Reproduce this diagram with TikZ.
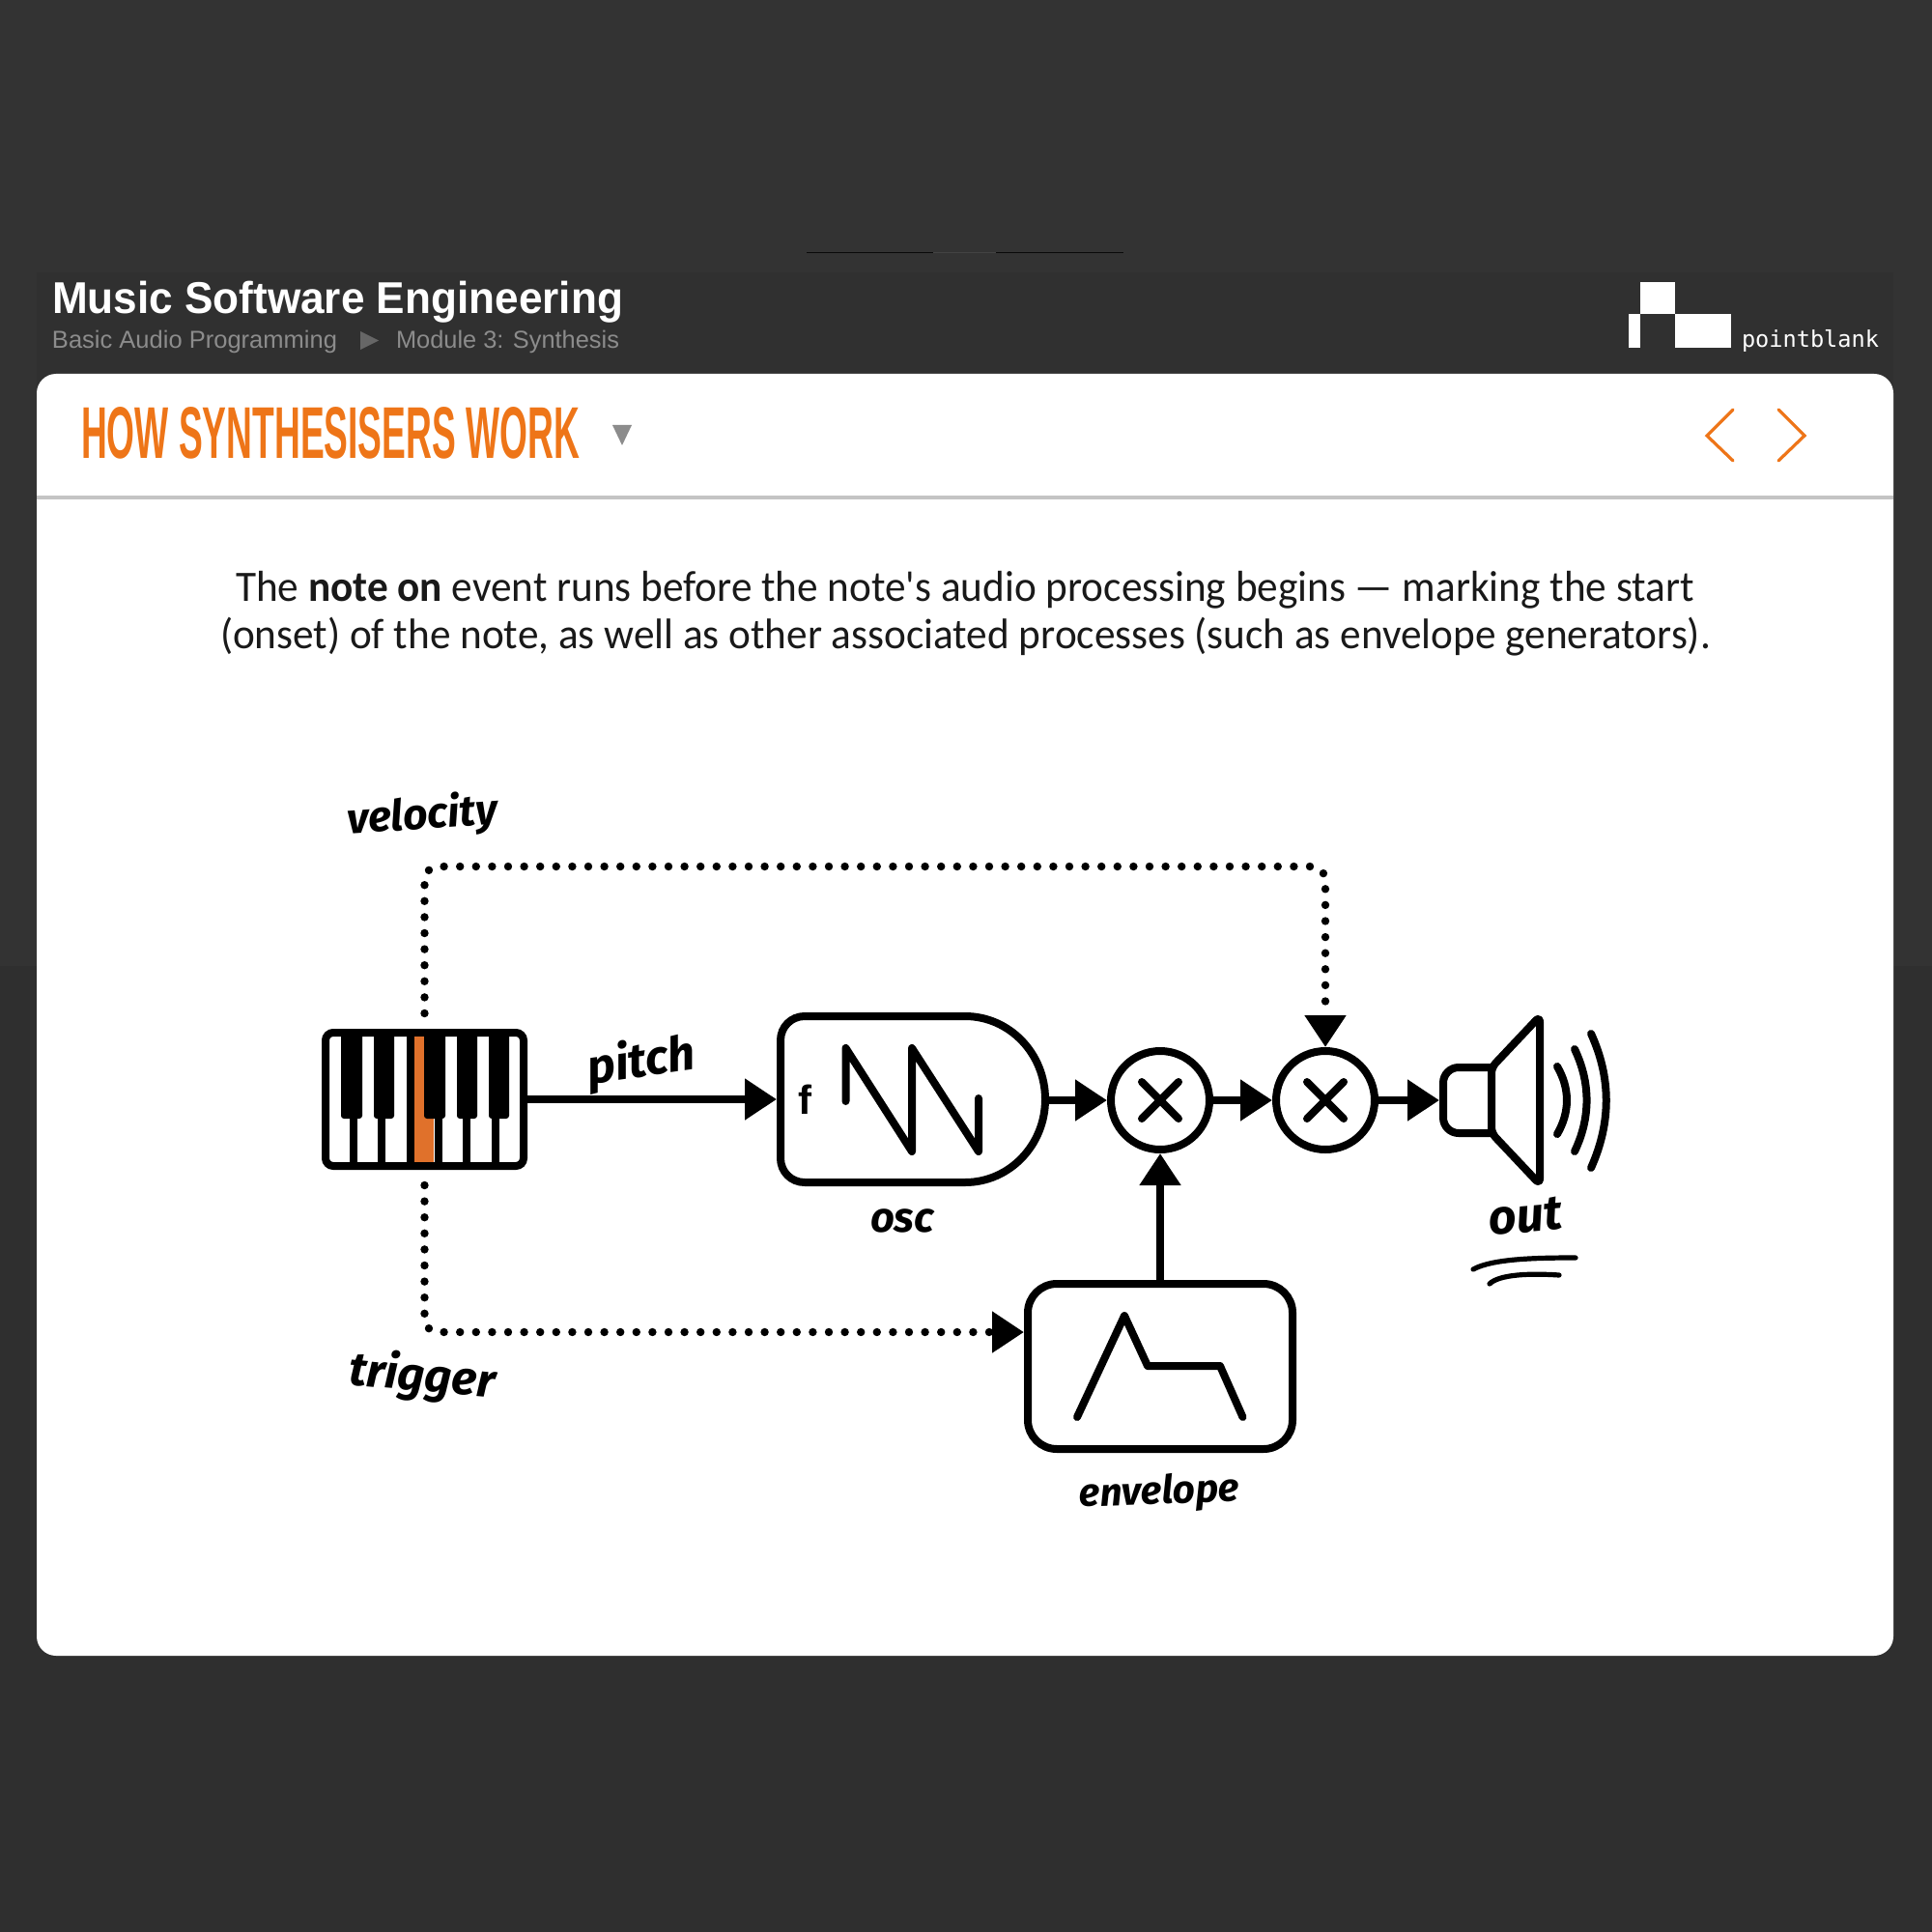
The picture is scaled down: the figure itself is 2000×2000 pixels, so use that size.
\documentclass[tikz,border=0pt]{standalone}
\usepackage{fontspec}
\usepackage{graphicx}
\usetikzlibrary{arrows.meta,calc}
\setmainfont{Liberation Sans}
\newfontfamily\bodyfont{Carlito}
\newfontfamily\monofont{DejaVu Sans Mono}
\newfontfamily\handfont{Fira Sans}
\definecolor{bgtop}{HTML}{333333}
\definecolor{bgband}{HTML}{303030}
\definecolor{bgbottom}{HTML}{2F2F2F}
\definecolor{orangetitle}{HTML}{EE7518}
\definecolor{orangekey}{HTML}{E0712B}
\definecolor{crumb}{HTML}{8C8C8C}
\definecolor{crumbtri}{HTML}{666666}
\definecolor{rulegray}{HTML}{C4C4C4}
\definecolor{ink}{HTML}{000000}
\tikzset{
  x=0.5pt,y=-0.5pt,
  lbl/.style={inner sep=0pt,outer sep=0pt},
  hand/.style={inner sep=0pt,outer sep=0pt,font=\handfont\bfseries\itshape,text=ink},
  wire/.style={line width=4pt,draw=ink,-{Triangle[length=16.5pt,width=20.5pt]}},
  dotline/.style={line width=4.2pt,draw=ink,line cap=round,dash pattern=on 0pt off 8.3pt,rounded corners=7pt},
  dotarrow/.style={dotline,-{Triangle[length=16.5pt,width=20.5pt]}},
  block/.style={line width=4pt,draw=ink,fill=white,inner sep=0pt,outer sep=2pt},
  mixer/.style={circle,line width=4pt,draw=ink,fill=white,minimum size=51pt,inner sep=0pt,outer sep=2pt},
  glyph/.style={line width=4pt,draw=ink,line cap=round,line join=round},
  navarrow/.style={line width=1.6pt,draw=orangetitle,line cap=round},
}
\newcommand{\fitw}[2]{\resizebox{#1pt}{!}{#2}}
\newcommand{\fitwh}[3]{\resizebox{#1pt}{#2pt}{#3}}
\begin{document}
\begin{tikzpicture}
\useasboundingbox (0,0) rectangle (2000,2000);
\fill[bgtop] (0,0) rectangle (2000,1000);
\fill[bgbottom] (0,1000) rectangle (2000,2000);
\fill[bgband] (38,282) rectangle (1960,420);
\fill[black!80!bgtop] (835,261) rectangle (966,262.5);
\fill[white!8!bgtop] (966,261) rectangle (1031,262.5);
\fill[black!80!bgtop] (1031,261) rectangle (1163,262.5);
% header
\node[lbl,anchor=base west,text=white] (course) at (54,325) {\fitwh{295.5}{16.7}{\bfseries Music Software Engineering}};
\node[lbl,anchor=base west,text=crumb] (crumbA) at (54,361) {\fitwh{147.5}{9.2}{Basic Audio Programming}};
\fill[crumbtri] (373,343) -- (392,352.5) -- (373,362) -- cycle;
\node[lbl,anchor=base west,text=crumb] (crumbB) at (410,361) {\fitwh{115.5}{9.2}{Module 3: Synthesis}};
% logo
\fill[white] (1698,292) rectangle (1733.5,325);
\fill[white] (1686,325) rectangle (1698,360);
\fill[white] (1733.5,325) rectangle (1792,360);
\node[lbl,anchor=base west,text=white] (brand) at (1803,360) {\fitw{71}{\monofont pointblank}};
% panel
\fill[white,rounded corners=10pt] (38,387) rectangle (1960,1714);
\fill[rulegray] (38,512.5) rectangle (1960,516.5);
\node[lbl,anchor=base west,text=orangetitle] (title) at (84,475) {\resizebox{258pt}{26.5pt}{\bfseries HOW SYNTHESISERS WORK}};
\fill[crumb] (634,440) -- (654,440) -- (644,461) -- cycle;
\draw[navarrow] (1794,424) -- (1767,451) -- (1794,477);
\draw[navarrow] (1841,424) -- (1868,451) -- (1841,477);
% body text
\node[lbl,anchor=base west,text=black!90] (lineA) at (244,622) {\fitwh{755}{15.6}{\bodyfont The \textbf{note on} event runs before the note's audio processing begins — marking the start}};
\node[lbl,anchor=base west,text=black!90] (lineB) at (228,671) {\fitwh{771.5}{16.2}{\bodyfont (onset) of the note, as well as other associated processes (such as envelope generators).}};
% keyboard
\node[block,rounded corners=4pt,minimum width=102.5pt,minimum height=69pt] (kbd) at (439.5,1138) {};
\fill[orangekey] (429,1073) rectangle (449,1203);
\foreach \k in {366,395,425,454,483,513} \draw[line width=4pt,draw=ink] (\k,1069) -- (\k,1207);
\foreach \a/\b in {353/375,387/408,439/461,473/494,506/527}
  \fill[ink,rounded corners=1.5pt] (\a,1065) rectangle (\b,1158);
% oscillator block
\node[lbl,minimum width=141pt,minimum height=90pt] (osc) at (945,1139) {};
\draw[line width=4pt,draw=ink,fill=white,line join=round]
  (833,1052) -- (999,1052) .. controls (1044.8,1052) and (1082,1090.5) .. (1082,1138)
  .. controls (1082,1185.5) and (1044.8,1224) .. (999,1224) -- (833,1224)
  .. controls (819,1224) and (808,1213) .. (808,1199) -- (808,1077)
  .. controls (808,1063) and (819,1052) .. (833,1052) -- cycle;
\node[lbl,font=\bfseries] (oscf) at (833,1138) {\fitw{7}{f}};
\draw[glyph] (875.5,1140) -- (875.5,1085) -- (944,1192) -- (944,1085) -- (1013,1192) -- (1013,1137);
% envelope block
\node[block,rounded corners=15pt,minimum width=137pt,minimum height=85.5pt] (env) at (1201,1414.5) {};
\draw[glyph] (1115,1467) -- (1164,1362) -- (1188,1414) -- (1263,1414) -- (1286.5,1467);
% multipliers
\node[mixer] (mixA) at (1201,1139) {};
\node[mixer] (mixB) at (1372,1139) {};
\foreach \m in {mixA,mixB} {
  \draw[glyph] ($(\m)+(-19,-19)$) -- ($(\m)+(19,19)$);
  \draw[glyph] ($(\m)+(-19,19)$) -- ($(\m)+(19,-19)$);
}
% speaker
\coordinate (spk) at (1490,1139);
\draw[line width=4pt,draw=ink,rounded corners=8pt] (1544,1105) -- (1494,1105) -- (1494,1173) -- (1544,1173);
\draw[line width=4pt,draw=ink,line join=round,rounded corners=3pt] (1544,1105) -- (1594,1052) -- (1594,1226) -- (1544,1173) -- cycle;
\draw[glyph] (1612,1104) .. controls (1625.3,1127) and (1625.3,1151) .. (1612,1174);
\draw[glyph] (1630,1086) .. controls (1646.7,1121) and (1646.7,1157) .. (1630,1192);
\draw[glyph] (1647,1070) .. controls (1668,1116) and (1668,1162) .. (1647,1209);
\draw[line width=2.6pt,line cap=round,draw=ink] (1525,1314) .. controls (1545,1303) and (1590,1302) .. (1631,1302);
\draw[line width=2.6pt,line cap=round,draw=ink] (1542,1329) .. controls (1552,1319) and (1585,1318) .. (1614,1320);
% connectors
\draw[wire] (kbd.east) -- (kbd.east -| osc.west);
\draw[wire] (osc.east) -- (mixA.west);
\draw[wire] (mixA.east) -- (mixB.west);
\draw[wire] (mixB.east) -- (spk);
\draw[wire] (env.north) -- (mixA.south);
\draw[dotarrow,shorten <=8pt] (kbd.north) -- (439.5,897) -- (1372,897) -- (mixB.north);
\draw[dotarrow,shorten <=8pt] (kbd.south) -- (439.5,1379) -- (env.west |- 0,1379);
% hand labels
\node[hand,rotate=4] (lvel) at (437,845) {\fitw{78}{velocity}};
\node[hand,rotate=8] (lpit) at (664,1100) {\fitw{56}{pitch}};
\node[hand] (losc) at (934,1264) {\fitw{33}{osc}};
\node[hand,rotate=-5] (ltrg) at (437,1426) {\fitw{76}{trigger}};
\node[hand,rotate=2] (lenv) at (1200,1546) {\fitw{83}{envelope}};
\node[hand,rotate=5] (lout) at (1579,1259) {\fitw{38}{out}};
\end{tikzpicture}
\end{document}
